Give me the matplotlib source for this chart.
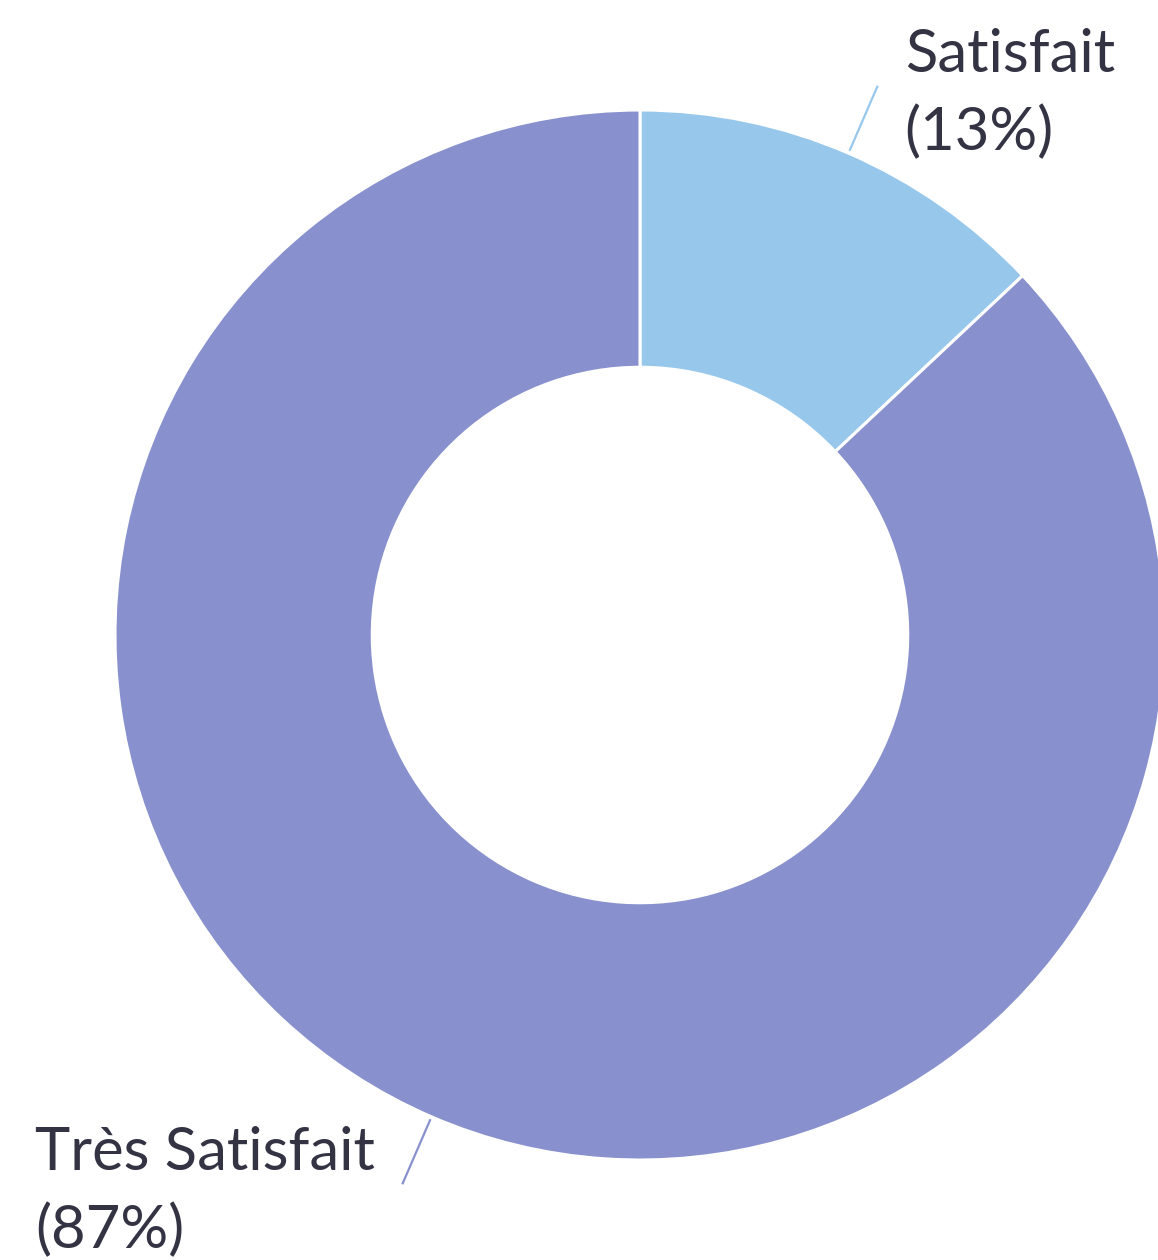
import numpy as np
import matplotlib
matplotlib.use('Agg')
import matplotlib.pyplot as plt

# ----------- data ----------- #
labels = ['Satisfait', 'Très Satisfait']
shares = [13, 87]
colors = ['#97C8EC', '#8890CD']

# ----------- figure / axes in pixel units ----------- #
W, H = 1158, 1260
fig = plt.figure(figsize=(W / 100, H / 100), dpi=100)
ax = fig.add_axes([0, 0, 1, 1])

cx, cy = 640, H - 635
R = 525
ring = 0.49

wedges, _ = ax.pie(shares, colors=colors, startangle=90, counterclock=False,
                   radius=R, center=(cx, cy), frame=True,
                   wedgeprops=dict(width=R * ring, edgecolor='white', linewidth=2.2))
ax.set_xlim(0, W)
ax.set_ylim(0, H)
ax.axis('off')

# ----------- leader lines + labels ----------- #
for w, lab, val, col in zip(wedges, labels, shares, colors):
    mid = np.deg2rad((w.theta1 + w.theta2) / 2)
    x0, y0 = cx + R * 1.005 * np.cos(mid), cy + R * 1.005 * np.sin(mid)
    x1, y1 = cx + R * 1.14 * np.cos(mid), cy + R * 1.14 * np.sin(mid)
    ax.plot([x0, x1], [y0, y1], color=col, lw=1.6, solid_capstyle='butt')
    side = 1 if np.cos(mid) >= 0 else -1
    ax.text(x1 + side * 27, y1 - 8, f'{lab}\n({val}%)',
            ha='left' if side > 0 else 'right', va='center', multialignment='left',
            fontsize=43, family='Lato', color='#333344', linespacing=1.5)

fig.savefig('out.png', dpi=100)
